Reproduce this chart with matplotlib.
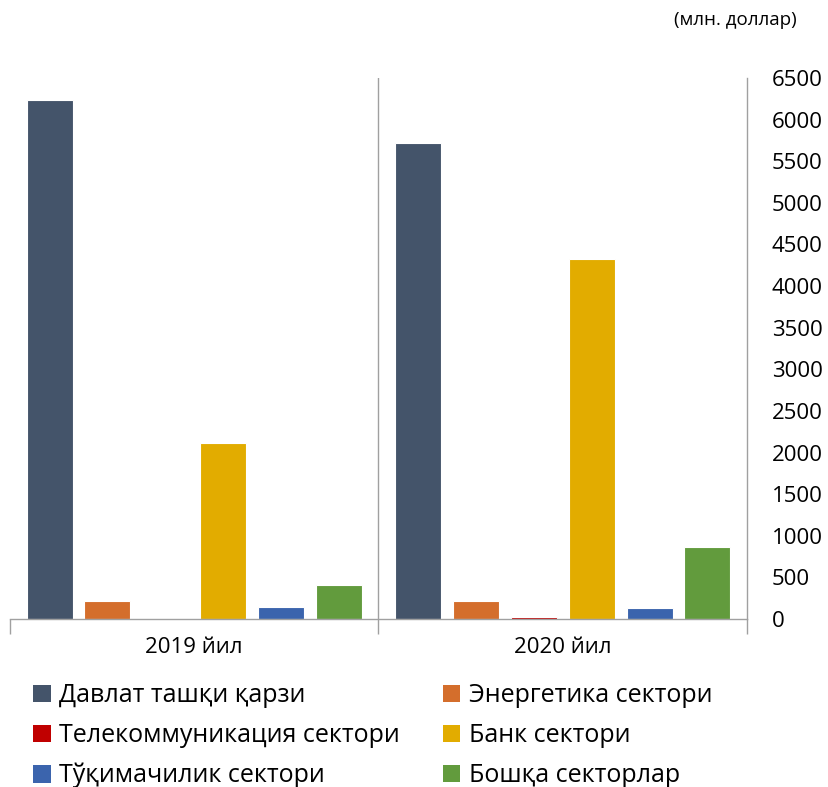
import matplotlib
matplotlib.use("Agg")
import matplotlib.pyplot as plt
from matplotlib.patches import Patch
import numpy as np

plt.rcParams['font.family'] = ['Open Sans', 'DejaVu Sans']

years = ["2019 йил", "2020 йил"]
series_names = ["Давлат ташқи қарзи", "Энергетика сектори", "Телекоммуникация сектори",
                "Банк сектори", "Тўқимачилик сектори", "Бошқа секторлар"]
davlat = [6240, 5720]
energetika = [215, 215]
telekom = [5, 20]
bank = [2115, 4330]
tuqimachilik = [144, 132]
boshqa = [408, 865]
values = [davlat, energetika, telekom, bank, tuqimachilik, boshqa]
colors = ["#44546A", "#D46E2C", "#C00000", "#E2AC00", "#3B64AD", "#629B3D"]
yticks = list(range(0, 7000, 500))

fig = plt.figure(figsize=(8.29, 7.87), dpi=100)
ax = fig.add_axes([10/829, 1-619/787, (747-10)/829, (619-78)/787])

x = np.arange(len(years))
step = 0.157
width = 0.125
for i, (vals, c) in enumerate(zip(values, colors)):
    ax.bar(x + (i - 2.5) * step, vals, width=width, color=c, edgecolor="white",
           linewidth=0.8, label=series_names[i], zorder=2)

ax.set_xlim(-0.5, 1.5)
ax.set_ylim(0, 6500)
ax.yaxis.tick_right()
ax.set_yticks(yticks)
ax.set_yticklabels([str(t) for t in yticks], fontsize=16)
ax.tick_params(axis='y', length=0, pad=18)
ax.set_xticks(x)
ax.set_xticklabels(years, fontsize=16)
ax.tick_params(axis='x', length=0, pad=13)
ax.set_xticks([-0.5, 0.5, 1.5], minor=True)
ax.tick_params(axis='x', which='minor', length=11, color="#A0A0A0", width=1)

for s in ["top", "left"]:
    ax.spines[s].set_visible(False)
for s in ["bottom", "right"]:
    ax.spines[s].set_color("#A0A0A0")
    ax.spines[s].set_linewidth(1)
ax.axvline(0.5, color="#A0A0A0", linewidth=1, zorder=1)

fig.text(797/829, 1-20/787, "(млн. доллар)", ha="right", va="center", fontsize=13.5)

handles = [Patch(facecolor=c, edgecolor="none") for c in colors]
order = [0, 2, 4, 1, 3, 5]
fig.legend([handles[i] for i in order], [series_names[i] for i in order],
           ncol=2, loc="upper left", bbox_to_anchor=(23/829, 1-673/787),
           frameon=False, fontsize=18, handlelength=0.7, handleheight=0.7,
           handletextpad=0.35, columnspacing=1.7, labelspacing=0.6, borderaxespad=0)

fig.savefig("out.png", dpi=100)
